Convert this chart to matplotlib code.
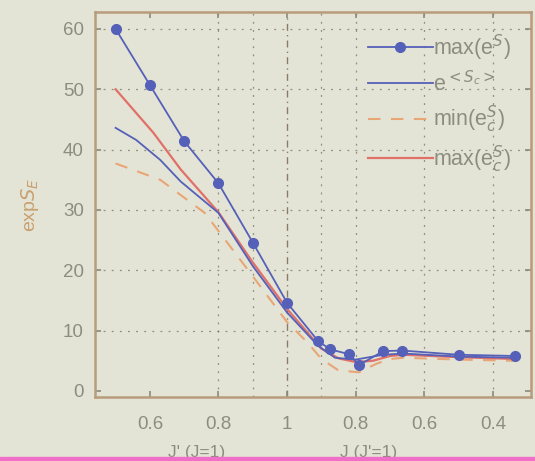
import matplotlib
matplotlib.use("Agg")
import matplotlib.pyplot as plt
from matplotlib.patches import Rectangle

# x position: left half = J' (J=1) from 0.5..1, right half = 2 - J (J'=1)
x_max_S = [0.5, 0.6, 0.7, 0.8, 0.9, 1.0, 1.09, 1.125, 1.18, 1.21, 1.28, 1.335, 1.5, 1.665]
y_max_S = [60.0, 50.7, 41.4, 34.4, 24.6, 14.6, 8.3, 6.9, 6.1, 4.3, 6.6, 6.7, 6.0, 5.8]

x_mean_S = [0.5, 0.56, 0.63, 0.69, 0.8, 0.9, 1.0, 1.09, 1.14, 1.2, 1.28, 1.34, 1.5, 1.665]
y_mean_S = [43.6, 41.6, 38.3, 34.7, 29.5, 20.7, 13.0, 7.5, 5.5, 5.2, 6.0, 6.2, 5.7, 5.5]

x_min_c = [0.5, 0.63, 0.76, 0.9, 1.0, 1.06, 1.1, 1.15, 1.21, 1.26, 1.3, 1.34, 1.5, 1.665]
y_min_c = [37.7, 35.0, 29.5, 19.0, 11.4, 8.0, 5.3, 3.4, 3.1, 4.5, 5.3, 5.5, 5.2, 5.0]

x_max_c = [0.5, 0.61, 0.69, 0.8, 0.9, 1.0, 1.1, 1.15, 1.2, 1.25, 1.3, 1.34, 1.5, 1.665]
y_max_c = [50.0, 42.8, 36.7, 29.6, 21.3, 13.6, 7.0, 5.4, 4.8, 5.0, 5.8, 6.0, 5.6, 5.3]

tick_pos = [0.6, 0.8, 1.0, 1.2, 1.4, 1.6]
tick_labels = ["0.6", "0.8", "1", "0.8", "0.6", "0.4"]
y_ticks = [0, 10, 20, 30, 40, 50, 60]

labels = [r"max(e$^{S}$)", r"e$^{<S_c>}$", r"min(e$_c^{S}$)", r"max(e$_c^{S}$)"]

bg = "#e4e4d6"
plt.rcParams['font.family'] = ['Liberation Sans', 'DejaVu Sans']
fig = plt.figure(figsize=(5.35, 4.61), dpi=100, facecolor=bg)
ax = fig.add_axes([95/535, 1-397/461, (531-95)/535, (397-12)/461])
ax.set_facecolor(bg)

blue = "#5560b8"
orange = "#e8a676"
red = "#e07068"

ax.plot(x_max_S, y_max_S, '-o', color=blue, lw=1.3, ms=7, mfc=blue, mec=blue, label=labels[0], zorder=5)
ax.plot(x_mean_S, y_mean_S, '-', color=blue, lw=1.3, label=labels[1], zorder=4)
ax.plot(x_min_c, y_min_c, '--', color=orange, lw=1.5, dashes=(6, 5), label=labels[2], zorder=3)
ax.plot(x_max_c, y_max_c, '-', color=red, lw=1.6, label=labels[3], zorder=3)

ax.set_xlim(0.44, 1.711)
ax.set_ylim(-1, 62.8)
ax.set_xticks(tick_pos)
ax.set_xticklabels(tick_labels)
ax.set_yticks(y_ticks)

gridc = "#6a6a5a"
for y in y_ticks[1:]:
    ax.axhline(y, color=gridc, lw=0.9, ls=(0, (1.5, 5)), alpha=0.7, zorder=1)
for x in [0.8, 0.9, 1.1, 1.2, 1.4, 1.6]:
    ax.axvline(x, color=gridc, lw=0.9, ls=(0, (1.5, 5)), alpha=0.7, zorder=1)
ax.axvline(1.0, color="#8a7a66", lw=1.0, ls=(0, (5, 3, 1, 3)), zorder=1)

for s in ax.spines.values():
    s.set_color("#b89c7c")
    s.set_linewidth(1.8)
ax.tick_params(direction='in', top=True, right=True, length=4, colors="#8a8a7a",
               labelcolor="#8c8c80", labelsize=13.5, width=1.2)
ax.tick_params(axis='x', pad=14)
ax.tick_params(axis='y', pad=8)

ax.set_ylabel(r"exp$S_E$", color="#c8a070", fontsize=14, labelpad=16)

fig.text(197/535, 1-452/461, "J' (J=1)", color="#8c8c80", fontsize=12.5, ha='center', va='center')
fig.text(369/535, 1-452/461, "J (J'=1)", color="#8c8c80", fontsize=12.5, ha='center', va='center')

leg = ax.legend(loc='upper right', frameon=False, fontsize=15.5, handlelength=3.0,
                labelspacing=0.38, handletextpad=0.0, borderaxespad=0.55)
for t in leg.get_texts():
    t.set_color("#8c8c80")

fig.add_artist(Rectangle((0, 0), 1, 4/461, transform=fig.transFigure, color="#f070c8", zorder=10))

fig.savefig("out.png", dpi=100, facecolor=bg)
